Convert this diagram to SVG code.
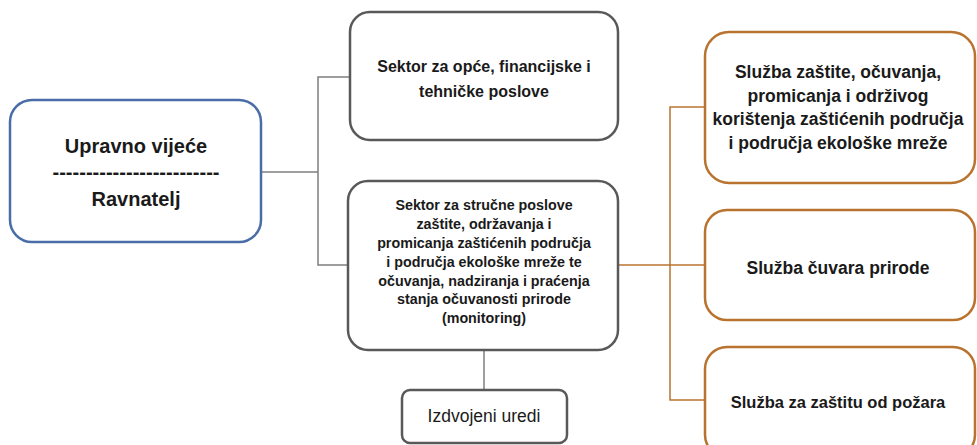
<svg xmlns="http://www.w3.org/2000/svg" width="977" height="445" viewBox="0 0 977 445">
  <style>
    .conn { fill: none; stroke: #7f7f7f; stroke-width: 1.5; }
    .conn-o { fill: none; stroke: #b8732f; stroke-width: 1.5; }
    .box { fill: #ffffff; stroke: #595959; stroke-width: 2.5; }
    .box-b { fill: #ffffff; stroke: #4a6da7; stroke-width: 2.5; }
    .box-o { fill: #ffffff; stroke: #b8732f; stroke-width: 2.5; }
    text { font-family: "Liberation Sans", Arial, sans-serif; fill: #1a1a1a; text-anchor: middle; }
    .b { font-weight: bold; }
  </style>

  <g id="connectors">
    <line class="conn" x1="261" y1="172" x2="318" y2="172"/>
    <polyline class="conn" points="350,77 318,77 318,265 348,265"/>
    <line class="conn" x1="484" y1="350" x2="484" y2="390"/>
    <line class="conn-o" x1="618" y1="265" x2="670" y2="265"/>
    <polyline class="conn-o" points="705,107 670,107 670,400 705,400"/>
    <line class="conn-o" x1="670" y1="265" x2="705" y2="265"/>
  </g>

  <g id="upravno">
    <rect class="box-b" x="10" y="100" width="251" height="142" rx="22"/>
    <text class="b" x="136" y="153" font-size="20">Upravno vijeće</text>
    <text class="b" x="136" y="179" font-size="20" textLength="167" lengthAdjust="spacingAndGlyphs">-------------------------</text>
    <text class="b" x="136" y="206" font-size="20">Ravnatelj</text>
  </g>

  <g id="sektor-opci">
    <rect class="box" x="350" y="12" width="268" height="128" rx="20"/>
    <text class="b" x="484" y="72" font-size="16">Sektor za opće, financijske i</text>
    <text class="b" x="484" y="97" font-size="16">tehničke poslove</text>
  </g>

  <g id="sektor-strucni">
    <rect class="box" x="348" y="181" width="270" height="169" rx="20"/>
    <text class="b" font-size="14.3" x="484" y="210">Sektor za stručne poslove</text>
    <text class="b" font-size="14.3" x="484" y="229">zaštite, održavanja i</text>
    <text class="b" font-size="14.3" x="484" y="248">promicanja zaštićenih područja</text>
    <text class="b" font-size="14.3" x="484" y="267">i područja  ekološke mreže te</text>
    <text class="b" font-size="14.3" x="484" y="286">očuvanja, nadziranja i praćenja</text>
    <text class="b" font-size="14.3" x="484" y="304">stanja očuvanosti prirode</text>
    <text class="b" font-size="14.3" x="484" y="323">(monitoring)</text>
  </g>

  <g id="izdvojeni">
    <rect class="box" x="402" y="390" width="165" height="53" rx="8"/>
    <text x="484" y="422" font-size="17.5">Izdvojeni uredi</text>
  </g>

  <g id="sluzba-zastite">
    <rect class="box-o" x="705" y="32" width="270" height="151" rx="24"/>
    <text class="b" font-size="17.5" x="838" y="78">Služba  zaštite, očuvanja,</text>
    <text class="b" font-size="17.5" x="838" y="102">promicanja  i održivog</text>
    <text class="b" font-size="17.5" x="838" y="125">korištenja zaštićenih  područja</text>
    <text class="b" font-size="17.5" x="838" y="149">i područja  ekološke  mreže</text>
  </g>

  <g id="sluzba-cuvara">
    <rect class="box-o" x="705" y="210" width="270" height="110" rx="22"/>
    <text class="b" font-size="17.5" x="838" y="274">Služba  čuvara prirode</text>
  </g>

  <g id="sluzba-pozar">
    <rect class="box-o" x="705" y="347" width="270" height="110" rx="22"/>
    <text class="b" font-size="16.5" x="838" y="408">Služba  za zaštitu od požara</text>
  </g>
</svg>
